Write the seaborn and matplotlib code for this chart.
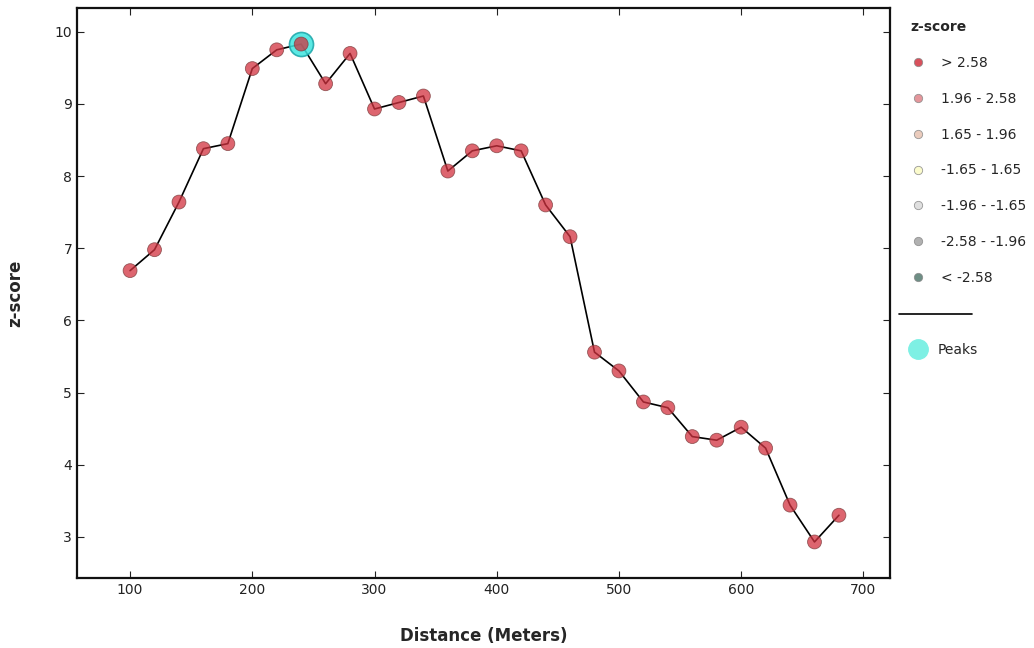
import numpy as np
import pandas as pd
import matplotlib
matplotlib.use("Agg")
import matplotlib.pyplot as plt
from matplotlib.lines import Line2D
import seaborn as sns

# Incremental spatial autocorrelation profile
distance = [100, 120, 140, 160, 180, 200, 220, 240, 260, 280,
            300, 320, 340, 360, 380, 400, 420, 440, 460, 480,
            500, 520, 540, 560, 580, 600, 620, 640, 660, 680]
zscore = [6.69, 6.98, 7.64, 8.38, 8.45, 9.49, 9.75, 9.83, 9.28, 9.70,
          8.93, 9.02, 9.11, 8.07, 8.35, 8.42, 8.35, 7.60, 7.16, 5.56,
          5.30, 4.87, 4.79, 4.39, 4.34, 4.52, 4.23, 3.44, 2.93, 3.30]
peak_distance = [240]
peak_zscore = [9.83]

bin_labels = ["> 2.58", "1.96 - 2.58", "1.65 - 1.96", "-1.65 - 1.65",
              "-1.96 - -1.65", "-2.58 - -1.96", "< -2.58"]
bin_edges = [2.58, 1.96, 1.65, -1.65, -1.96, -2.58]
bin_colors = ["#d2323f", "#e0848a", "#e8c4b2", "#fbfbc4",
              "#dadada", "#a4a4a4", "#557a70"]


def zbin(z):
    for label, edge in zip(bin_labels, bin_edges):
        if z > edge:
            return label
    return bin_labels[-1]


df = pd.DataFrame({"distance": distance, "zscore": zscore})
df["bin"] = [zbin(z) for z in zscore]
peaks = pd.DataFrame({"distance": peak_distance, "zscore": peak_zscore})

sns.set_style("white")
plt.rcParams["font.family"] = ["DejaVu Sans"]
plt.rcParams.update({
    "xtick.direction": "in", "ytick.direction": "in",
    "xtick.top": True, "ytick.right": True,
    "xtick.major.size": 5, "ytick.major.size": 5,
    "xtick.bottom": True, "ytick.left": True,
})

fig = plt.figure(figsize=(10.34, 6.48), dpi=100)
ax = fig.add_axes([0.0745, 0.108, 0.7865, 0.8797])

sns.lineplot(data=df, x="distance", y="zscore", ax=ax, color="black",
             linewidth=1.2, zorder=2, legend=False)
sns.scatterplot(data=peaks, x="distance", y="zscore", ax=ax, s=300,
                color="#3ee6e0", edgecolor="#1aa5a8", linewidth=1.2,
                alpha=0.85, zorder=3, legend=False)
sns.scatterplot(data=df, x="distance", y="zscore", hue="bin",
                hue_order=bin_labels, palette=dict(zip(bin_labels, bin_colors)),
                ax=ax, s=100, edgecolor="#7a3a3a", linewidth=0.6,
                alpha=0.75, zorder=4, legend=False)

ax.set_xlim(56.6, 722)
ax.set_ylim(2.43, 10.33)
ax.set_xticks([100, 200, 300, 400, 500, 600, 700])
ax.set_yticks([3, 4, 5, 6, 7, 8, 9, 10])
ax.tick_params(labelsize=10, colors="#222222", width=0.8)
for sp in ax.spines.values():
    sp.set_linewidth(1.6)
    sp.set_color("#111111")
ax.set_xlabel("Distance (Meters)", fontsize=12, fontweight="bold", labelpad=22)
ax.set_ylabel("z-score", fontsize=12, fontweight="bold", labelpad=22)

# Legend: z-score classes
handles = [Line2D([], [], marker="o", linestyle="", markersize=6,
                  markerfacecolor=c, markeredgecolor="#888888",
                  markeredgewidth=0.6, alpha=0.85) for c in bin_colors]
leg = fig.legend(handles, bin_labels, title="z-score", loc="upper left",
                 bbox_to_anchor=(0.868, 0.988), frameon=False, fontsize=10,
                 labelspacing=1.57, handletextpad=1.0, handlelength=1.2,
                 title_fontproperties={"weight": "bold", "size": 10})
leg._legend_box.align = "left"

# Separator between the class legend and the peaks entry
fig.add_artist(Line2D([0.869, 0.94], [0.516, 0.516], color="black",
                      linewidth=1.2, transform=fig.transFigure))

peak_handle = Line2D([], [], marker="o", linestyle="", markersize=14,
                     markerfacecolor="#7ef0e4", markeredgecolor="#7ef0e4")
fig.legend([peak_handle], ["Peaks"], loc="upper left",
           bbox_to_anchor=(0.868, 0.49), frameon=False, fontsize=10,
           handletextpad=0.8, handlelength=1.2)

fig.savefig("out.png", dpi=100)
